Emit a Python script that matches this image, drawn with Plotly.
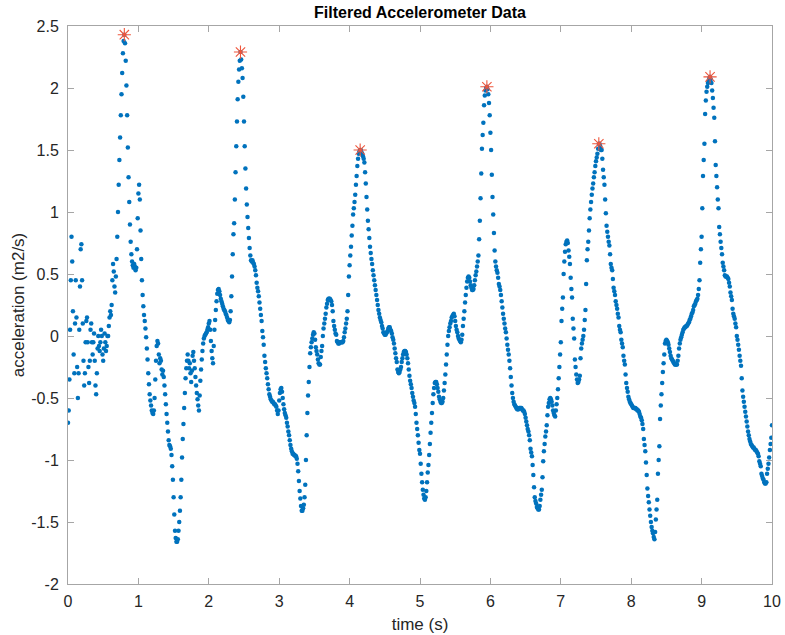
import numpy as np
import plotly.graph_objects as go

# sampling step of the recording (s)
dt = 0.01

# filtered acceleration (m2/s), one row per 0.1 s
acc = [
    -0.70, -0.60, -0.35, 0.05, 0.45, 0.80, 0.60, 0.20, -0.15, -0.30,
    0.10, 0.45, 0.15, -0.25, -0.50, -0.30, 0.05, 0.40, 0.70, 0.74,
    0.45, 0.10, -0.20, -0.40, -0.30, -0.05, 0.12, 0.15, -0.05, -0.25,
    -0.38, -0.20, 0.05, 0.10, -0.05, -0.15, -0.05, 0.02, -0.20, -0.40,
    -0.47, -0.30, -0.10, 0.00, -0.08, -0.12, -0.05, 0.05, 0.00, -0.15,
    -0.20, -0.10, 0.02, -0.05, -0.12, -0.08, 0.00, 0.00, 0.08, 0.15,
    0.20, 0.17, 0.25, 0.45, 0.58, 0.52, 0.40, 0.35, 0.48, 0.62,
    0.80, 1.00, 1.22, 1.42, 1.60, 1.78, 1.95, 2.12, 2.28, 2.38,
    2.43, 2.36, 2.22, 2.02, 1.78, 1.52, 1.28, 1.08, 0.90, 0.76,
    0.66, 0.60, 0.57, 0.55, 0.58, 0.56, 0.53, 0.55, 0.70, 0.95,
    1.15, 1.22, 1.10, 0.85, 0.62, 0.45, 0.33, 0.24, 0.17, 0.12,
    0.06, -0.01, -0.10, -0.19, -0.30, -0.39, -0.47, -0.52, -0.56, -0.60,
    -0.62, -0.63, -0.60, -0.50, -0.35, -0.20, -0.08, -0.04, -0.06, -0.15,
    -0.22, -0.18, -0.20, -0.27, -0.31, -0.28, -0.33, -0.40, -0.47, -0.55,
    -0.63, -0.70, -0.77, -0.84, -0.88, -0.89, -0.91, -0.96, -1.05, -1.16,
    -1.30, -1.44, -1.57, -1.63, -1.66, -1.66, -1.64, -1.57, -1.50, -1.41,
    -1.30, -1.16, -0.98, -0.83, -0.71, -0.58, -0.46, -0.34, -0.26, -0.20,
    -0.15, -0.20, -0.26, -0.22, -0.30, -0.37, -0.28, -0.16, -0.13, -0.20,
    -0.26, -0.33, -0.40, -0.46, -0.51, -0.56, -0.60, -0.48, -0.36, -0.27,
    -0.19, -0.12, -0.06, -0.02, 0.00, 0.01, 0.02, 0.03, 0.05, 0.07,
    0.10, 0.12, 0.05, -0.04, -0.12, -0.18, -0.22, -0.08, 0.05, 0.13,
    0.21, 0.28, 0.34, 0.37, 0.38, 0.36, 0.33, 0.30, 0.28, 0.26,
    0.24, 0.22, 0.21, 0.20, 0.18, 0.17, 0.15, 0.13, 0.12, 0.11,
    0.13, 0.20, 0.32, 0.48, 0.66, 0.82, 0.91, 1.10, 1.32, 1.53,
    1.73, 1.91, 2.05, 2.15, 2.22, 2.29, 2.23, 2.16, 2.08, 1.93,
    1.73, 1.53, 1.35, 1.19, 1.06, 0.96, 0.87, 0.79, 0.71, 0.65,
    0.61, 0.60, 0.61, 0.59, 0.58, 0.56, 0.53, 0.49, 0.43, 0.39,
    0.36, 0.32, 0.27, 0.22, 0.17, 0.12, 0.04, -0.01, -0.07, -0.16,
    -0.21, -0.26, -0.30, -0.34, -0.39, -0.43, -0.47, -0.49, -0.51, -0.52,
    -0.53, -0.53, -0.54, -0.55, -0.55, -0.56, -0.57, -0.60, -0.63, -0.60,
    -0.52, -0.46, -0.43, -0.42, -0.45, -0.50, -0.55, -0.59, -0.62, -0.64,
    -0.66, -0.70, -0.73, -0.77, -0.80, -0.84, -0.88, -0.91, -0.93, -0.95,
    -0.95, -0.96, -0.96, -0.97, -0.97, -0.99, -1.03, -1.09, -1.17, -1.25,
    -1.31, -1.37, -1.41, -1.41, -1.39, -1.36, -1.30, -1.20, -1.00, -0.80,
    -0.62, -0.48, -0.37, -0.25, -0.14, -0.09, -0.05, -0.02, 0.01, 0.03,
    0.02, -0.03, -0.09, -0.12, -0.15, -0.19, -0.22, -0.23, -0.23, -0.17,
    -0.12, -0.08, 0.00, 0.06, 0.10, 0.14, 0.18, 0.23, 0.26, 0.29,
    0.30, 0.30, 0.30, 0.29, 0.28, 0.25, 0.20, 0.12, 0.08, 0.05,
    0.02, 0.01, -0.04, -0.05, -0.06, -0.06, -0.05, -0.05, -0.05, -0.05,
    -0.05, -0.04, -0.01, 0.03, 0.06, 0.10, 0.14, 0.20, 0.33, 0.48,
    0.57, 0.65, 0.72, 0.81, 0.89, 0.98, 1.03, 1.08, 1.14, 1.22,
    1.29, 1.37, 1.43, 1.47, 1.49, 1.50, 1.50, 1.48, 1.47, 1.45,
    1.43, 1.40, 1.32, 1.23, 1.12, 1.02, 0.93, 0.86, 0.79, 0.72,
    0.67, 0.62, 0.58, 0.53, 0.49, 0.45, 0.41, 0.37, 0.33, 0.29,
    0.25, 0.21, 0.18, 0.15, 0.13, 0.11, 0.08, 0.06, 0.03, 0.02,
    0.01, 0.01, 0.02, 0.03, 0.04, 0.06, 0.07, 0.07, 0.05, 0.04,
    0.02, -0.01, -0.03, -0.06, -0.10, -0.14, -0.18, -0.21, -0.27, -0.29,
    -0.30, -0.29, -0.27, -0.25, -0.21, -0.18, -0.15, -0.13, -0.12, -0.12,
    -0.13, -0.15, -0.18, -0.22, -0.27, -0.32, -0.36, -0.39, -0.42, -0.46,
    -0.49, -0.52, -0.54, -0.57, -0.63, -0.70, -0.75, -0.80, -0.86, -0.92,
    -0.95, -1.03, -1.11, -1.18, -1.24, -1.28, -1.31, -1.32, -1.30, -1.25,
    -1.18, -1.10, -1.04, -0.96, -0.87, -0.78, -0.70, -0.62, -0.54, -0.47,
    -0.42, -0.38, -0.37, -0.37, -0.39, -0.42, -0.45, -0.49, -0.51, -0.53,
    -0.54, -0.54, -0.53, -0.50, -0.44, -0.38, -0.31, -0.23, -0.15, -0.07,
    0.00, 0.04, 0.07, 0.10, 0.12, 0.15, 0.16, 0.17, 0.18, 0.16,
    0.12, 0.08, 0.05, 0.03, 0.00, -0.02, -0.03, -0.04, -0.05, -0.03,
    0.01, 0.08, 0.14, 0.20, 0.27, 0.33, 0.39, 0.44, 0.47, 0.48,
    0.47, 0.44, 0.41, 0.39, 0.37, 0.37, 0.38, 0.41, 0.45, 0.49,
    0.52, 0.56, 0.60, 0.65, 0.78, 0.93, 1.11, 1.31, 1.51, 1.62,
    1.72, 1.86, 1.94, 1.98, 2.00, 2.01, 1.99, 1.95, 1.88, 1.78,
    1.64, 1.50, 1.30, 1.12, 0.98, 0.83, 0.69, 0.60, 0.56, 0.53,
    0.51, 0.47, 0.42, 0.40, 0.37, 0.33, 0.28, 0.23, 0.18, 0.14,
    0.10, 0.06, 0.03, -0.02, -0.07, -0.11, -0.15, -0.20, -0.26, -0.33,
    -0.40, -0.46, -0.50, -0.53, -0.55, -0.56, -0.57, -0.58, -0.59, -0.59,
    -0.59, -0.58, -0.58, -0.58, -0.58, -0.59, -0.60, -0.60, -0.61, -0.63,
    -0.66, -0.69, -0.72, -0.75, -0.77, -0.80, -0.84, -0.91, -0.94, -0.97,
    -1.04, -1.12, -1.22, -1.30, -1.33, -1.35, -1.38, -1.39, -1.40, -1.40,
    -1.37, -1.32, -1.28, -1.24, -1.14, -1.01, -0.93, -0.87, -0.81, -0.77,
    -0.72, -0.64, -0.57, -0.54, -0.51, -0.50, -0.51, -0.53, -0.56, -0.60,
    -0.62, -0.64, -0.65, -0.60, -0.55, -0.50, -0.43, -0.34, -0.25, -0.15,
    -0.05, 0.12, 0.22, 0.31, 0.50, 0.60, 0.68, 0.74, 0.76, 0.77,
    0.75, 0.69, 0.64, 0.58, 0.47, 0.38, 0.31, 0.14, 0.06, -0.02,
    -0.19, -0.25, -0.31, -0.35, -0.38, -0.37, -0.35, -0.32, -0.18, -0.10,
    -0.06, -0.03, 0.00, 0.05, 0.13, 0.21, 0.42, 0.61, 0.70, 0.76,
    0.85, 0.95, 1.02, 1.08, 1.14, 1.19, 1.23, 1.28, 1.32, 1.37,
    1.41, 1.44, 1.47, 1.51, 1.55, 1.55, 1.53, 1.50, 1.50, 1.43,
    1.34, 1.28, 1.22, 1.10, 0.99, 0.89, 0.84, 0.80, 0.76, 0.73,
    0.66, 0.58, 0.55, 0.53, 0.46, 0.39, 0.36, 0.33, 0.28, 0.25,
    0.22, 0.18, 0.15, 0.08, 0.05, 0.03, -0.03, -0.06, -0.09, -0.16,
    -0.20, -0.23, -0.31, -0.38, -0.42, -0.45, -0.49, -0.51, -0.53, -0.54,
    -0.55, -0.56, -0.57, -0.58, -0.58, -0.58, -0.58, -0.59, -0.59, -0.60,
    -0.60, -0.61, -0.63, -0.65, -0.66, -0.68, -0.71, -0.75, -0.83, -0.88,
    -0.93, -1.02, -1.12, -1.23, -1.29, -1.34, -1.40, -1.45, -1.50, -1.54,
    -1.57, -1.59, -1.62, -1.64, -1.58, -1.48, -1.40, -1.32, -1.11, -1.00,
    -0.89, -0.67, -0.56, -0.47, -0.38, -0.29, -0.22, -0.15, -0.06, -0.04,
    -0.03, -0.04, -0.05, -0.07, -0.10, -0.13, -0.16, -0.18, -0.19, -0.20,
    -0.21, -0.22, -0.23, -0.23, -0.23, -0.23, -0.20, -0.16, -0.10, -0.06,
    -0.03, -0.01, 0.01, 0.03, 0.05, 0.06, 0.07, 0.07, 0.08, 0.08,
    0.09, 0.10, 0.11, 0.13, 0.14, 0.16, 0.18, 0.19, 0.21, 0.24,
    0.25, 0.26, 0.28, 0.29, 0.30, 0.33, 0.38, 0.45, 0.59, 0.70,
    0.80, 1.03, 1.29, 1.42, 1.55, 1.79, 1.90, 1.97, 2.01, 2.04,
    2.06, 2.08, 2.09, 2.07, 2.04, 1.98, 1.92, 1.84, 1.76, 1.57,
    1.38, 1.29, 1.20, 1.10, 1.03, 0.88, 0.82, 0.76, 0.71, 0.66,
    0.59, 0.56, 0.53, 0.49, 0.48, 0.48, 0.48, 0.47, 0.46, 0.43,
    0.40, 0.35, 0.32, 0.29, 0.22, 0.18, 0.16, 0.14, 0.10, 0.07,
    0.00, -0.03, -0.07, -0.11, -0.16, -0.20, -0.24, -0.34, -0.44, -0.49,
    -0.53, -0.57, -0.61, -0.65, -0.69, -0.73, -0.77, -0.80, -0.83, -0.85,
    -0.87, -0.88, -0.89, -0.90, -0.90, -0.91, -0.92, -0.92, -0.93, -0.94,
    -0.95, -0.97, -1.01, -1.03, -1.05, -1.11, -1.13, -1.15, -1.16, -1.18,
    -1.19, -1.19, -1.18, -1.11, -1.07, -1.03, -0.98, -0.92, -0.87, -0.82,
    -0.72,
]

# detected step peaks (s)
peak_times = [0.80, 2.45, 4.15, 5.95, 7.54, 9.12]

# axis ticks
x_ticks = [0, 1, 2, 3, 4, 5, 6, 7, 8, 9, 10]
y_ticks = [-2, -1.5, -1, -0.5, 0, 0.5, 1, 1.5, 2, 2.5]
y_tick_labels = ["-2", "-1.5", "-1", "-0.5", "0", "0.5", "1", "1.5", "2", "2.5"]

t = np.arange(len(acc)) * dt
acc_arr = np.array(acc)
peak_idx = [int(round(p / dt)) for p in peak_times]
peak_t = t[peak_idx]
peak_v = acc_arr[peak_idx]

fig = go.Figure()
fig.add_trace(go.Scatter(
    x=t, y=acc_arr, mode="markers",
    marker=dict(size=4.5, color="#0072BD", line=dict(width=0)),
    showlegend=False,
))
fig.add_trace(go.Scatter(
    x=peak_t, y=peak_v, mode="markers",
    marker=dict(symbol="asterisk-open", size=11,
                line=dict(color="#E0662F", width=1.1)),
    showlegend=False,
))

axis_col = "#a6a6a6"
fig.update_layout(
    width=785, height=635,
    margin=dict(l=68, r=13, t=26, b=51, autoexpand=False),
    paper_bgcolor="white", plot_bgcolor="white",
    font=dict(family="Liberation Sans, Arial, sans-serif", size=16, color="#262626"),
    title=dict(text="<b>Filtered Accelerometer Data</b>", x=0.5, xref="paper",
               xanchor="center", y=1 - 12 / 635, yref="container", yanchor="middle",
               font=dict(size=16, color="#000000")),
    xaxis=dict(range=[0, 10], tickvals=x_ticks, ticks="inside", ticklen=6,
               tickcolor=axis_col, showline=True, linecolor=axis_col, linewidth=1,
               mirror="ticks", showgrid=False, zeroline=False, automargin=False,
               tickfont=dict(size=16), ticklabelstandoff=3,
               title=dict(text="time (s)", font=dict(size=17), standoff=8)),
    yaxis=dict(range=[-2, 2.5], tickvals=y_ticks, ticktext=y_tick_labels,
               ticks="inside", ticklen=6, tickcolor=axis_col, showline=True,
               linecolor=axis_col, linewidth=1, mirror="ticks", showgrid=False,
               zeroline=False, automargin=False, tickfont=dict(size=16),
               ticklabelstandoff=5,
               title=dict(text="acceleration (m2/s)", font=dict(size=17), standoff=2)),
)

fig.write_html("out.html")
